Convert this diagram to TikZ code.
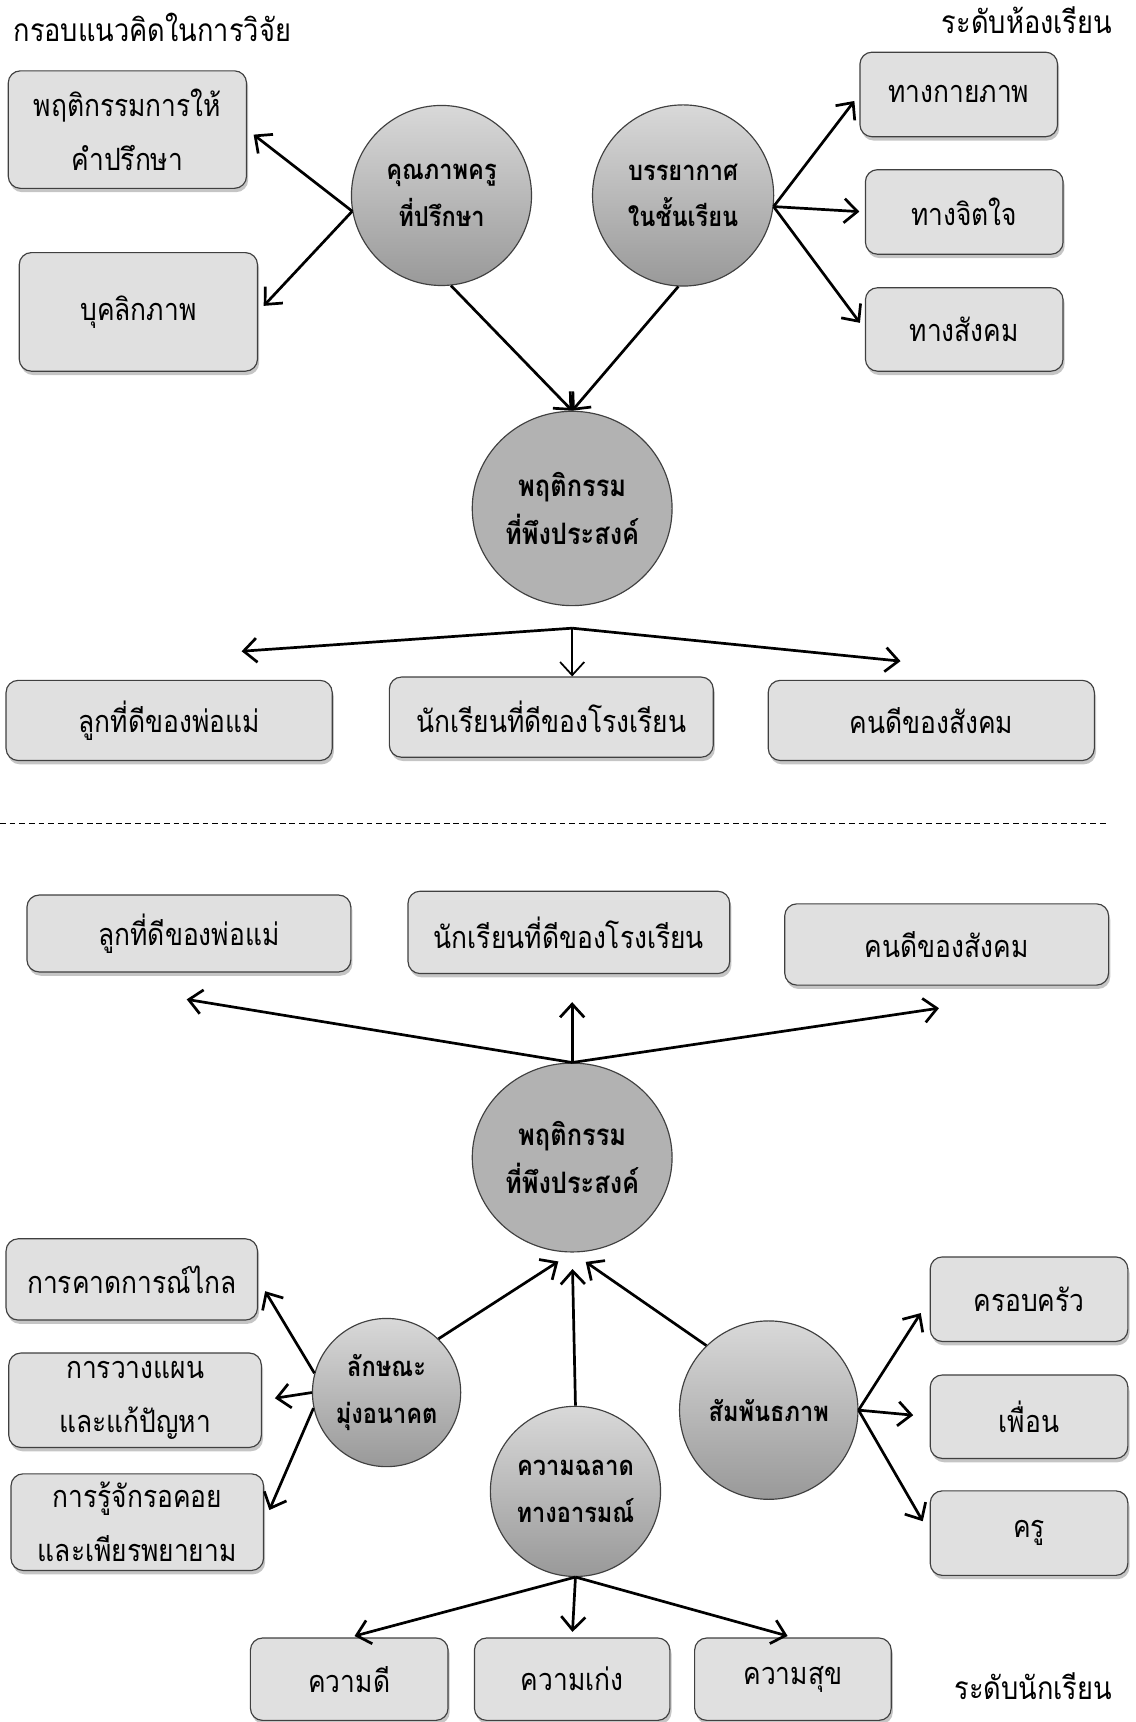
\documentclass[tikz,border=0pt]{standalone}
\usepackage{fontspec}
\setmainfont[Script=Thai, FakeStretch=0.86]{Loma}
\usetikzlibrary{shapes, arrows.meta, positioning, shadows}
\tikzset{%
>={Straight Barb[length=2.4mm,width=4.4mm]},
% Specifications for style of nodes:
base/.style = {draw=black!75, line width=0.6pt, text centered, align=center},
box/.style = {base, rectangle, rounded corners=2.2mm, fill=black!12,
  font=\fontsize{15.9}{28}\selectfont,
  drop shadow={shadow xshift=0.3mm, shadow yshift=-0.7mm, fill=black!45}},
bubble/.style = {base, circle, inner sep=0pt, top color=black!15, bottom color=black!40,
  font=\bfseries\fontsize{14.2}{24}\selectfont},
core/.style = {base, ellipse, inner sep=0pt, fill=black!30,
  font=\bfseries\fontsize{15.3}{25}\selectfont},
heading/.style = {inner sep=0pt, font=\fontsize{16.4}{18}\selectfont},
link/.style = {->, line width=1.4pt},
}

\begin{document}
\begin{tikzpicture}[x=0.02cm, y=-0.02cm]
    \useasboundingbox (0,0) rectangle (1034,1568);
    % Headings
    \node (title) [heading, anchor=west] at (12,25) {กรอบแนวคิดในการวิจัย};
    \node (roomLevel) [heading, anchor=east] at (1013,18) {ระดับห้องเรียน};
    \node (studentLevel) [heading, anchor=east] at (1013,1535) {ระดับนักเรียน};

    % Classroom level (position, etc.)
    \node (advising) [box, minimum width=4.34cm, minimum height=2.14cm] at (116,118) {พฤติกรรมการให้\\คำปรึกษา};
    \node (personality) [box, minimum width=4.34cm, minimum height=2.16cm] at (126,284) {บุคลิกภาพ};
    \node (teacher) [bubble, minimum size=3.28cm] at (402,178) {คุณภาพครู\\ที่ปรึกษา};
    \node (climate) [bubble, minimum size=3.3cm] at (622,178) {บรรยากาศ\\ในชั้นเรียน};
    \node (physical) [box, minimum width=3.6cm, minimum height=1.54cm] at (873,86) {ทางกายภาพ};
    \node (mental) [box, minimum width=3.6cm, minimum height=1.54cm] at (878,193) {ทางจิตใจ};
    \node (social) [box, minimum width=3.6cm, minimum height=1.52cm] at (878,300) {ทางสังคม};
    \node (desiredA) [core, minimum width=3.64cm, minimum height=3.54cm] at (521,463) {พฤติกรรม\\ที่พึงประสงค์};
    \coordinate [below=0.4cm of desiredA] (forkA);
    \node (childA) [box, minimum width=5.94cm, minimum height=1.46cm] at (154,656) {ลูกที่ดีของพ่อแม่};
    \node (pupilA) [box, minimum width=5.9cm, minimum height=1.46cm] at (502,653) {นักเรียนที่ดีของโรงเรียน};
    \node (citizenA) [box, minimum width=5.94cm, minimum height=1.46cm] at (848,656) {คนดีของสังคม};
    \coordinate (toChildA) at (220,593);
    \coordinate (toCitizenA) at (820,602);

    \draw [dashed, dash pattern=on 3pt off 2pt, line width=0.5pt] (0,750) -- (1008,750);

    % Student level
    \node (childB) [box, minimum width=5.9cm, minimum height=1.4cm] at (172,850) {ลูกที่ดีของพ่อแม่};
    \node (pupilB) [box, minimum width=5.86cm, minimum height=1.5cm] at (518,849) {นักเรียนที่ดีของโรงเรียน};
    \node (citizenB) [box, minimum width=5.9cm, minimum height=1.48cm] at (862,860) {คนดีของสังคม};
    \node (desiredB) [core, minimum width=3.64cm, minimum height=3.44cm] at (521,1054) {พฤติกรรม\\ที่พึงประสงค์};
    \coordinate (toChildB) at (170,910);
    \coordinate [above=1.1cm of desiredB.north] (toPupilB);
    \coordinate (toCitizenB) at (855,918);
    \node (foresight) [box, minimum width=4.58cm, minimum height=1.48cm] at (120,1165) {การคาดการณ์ไกล};
    \node (planning) [box, minimum width=4.6cm, minimum height=1.72cm] at (123,1275) {การวางแผน\\และแก้ปัญหา};
    \node (patience) [box, minimum width=4.6cm, minimum height=1.76cm] at (125,1386) {การรู้จักรอคอย\\และเพียรพยายาม};
    \node (future) [bubble, minimum size=2.7cm] at (352,1268) {ลักษณะ\\มุ่งอนาคต};
    \node (emotion) [bubble, minimum size=3.1cm] at (524,1358) {ความฉลาด\\ทางอารมณ์};
    \node (relation) [bubble, minimum size=3.25cm] at (700,1284) {สัมพันธภาพ};
    \node (family) [box, minimum width=3.6cm, minimum height=1.54cm] at (937,1183) {ครอบครัว};
    \node (friend) [box, minimum width=3.6cm, minimum height=1.52cm] at (937,1290) {เพื่อน};
    \node (tutor) [box, minimum width=3.6cm, minimum height=1.54cm] at (937,1396) {ครู};
    \node (virtue) [box, minimum width=3.6cm, minimum height=1.5cm] at (318,1529) {ความดี};
    \node (talent) [box, minimum width=3.56cm, minimum height=1.5cm] at (521,1529) {ความเก่ง};
    \node (joy) [box, minimum width=3.58cm, minimum height=1.5cm] at (722,1529) {ความสุข};

    % Connectors
    \draw [link, shorten >=1.5mm] (teacher.190) -- (advising.east);
    \draw [link, shorten >=1.5mm] (teacher.190) -- (personality.east);
    \draw [link, shorten >=1.5mm] (climate.-7) -- (physical.west);
    \draw [link, shorten >=1mm] (climate.-7) -- (mental.west);
    \draw [link, shorten >=1.5mm] (climate.-7) -- (social.west);
    \draw [link] (teacher.-84) -- (desiredA.north);
    \draw [link] (climate.-93) -- (desiredA.north);
    \draw [link] (forkA) -- (toChildA);
    \draw [->, line width=0.9pt] (forkA) -- (forkA |- pupilA.north);
    \draw [link] (forkA) -- (toCitizenA);

    \draw [link] (desiredB.north) -- (toChildB);
    \draw [link] (desiredB.north) -- (toPupilB);
    \draw [link] (desiredB.north) -- (toCitizenB);
    \draw [link, shorten >=3mm] (future.46) -- (desiredB.south);
    \draw [link, shorten >=3mm] (emotion.north) -- (desiredB.south);
    \draw [link, shorten >=3mm] (relation.134) -- (desiredB.south);
    \draw [link, shorten >=2.5mm] (future.165) -- (foresight.east);
    \draw [link, shorten >=2.4mm] (future.180) -- (planning.east);
    \draw [link, shorten >=2.4mm] (future.192) -- (patience.east);
    \draw [link, shorten >=3mm] (relation.east) -- (family.west);
    \draw [link, shorten >=3mm] (relation.east) -- (friend.west);
    \draw [link, shorten >=2.5mm] (relation.east) -- (tutor.west);
    \draw [link, shorten >=1mm] (emotion.south) -- (virtue.north);
    \draw [link, shorten >=1mm] (emotion.south) -- (talent.north);
    \draw [link, shorten >=1mm] (emotion.south) -- (joy.north);
\end{tikzpicture}
\end{document}
